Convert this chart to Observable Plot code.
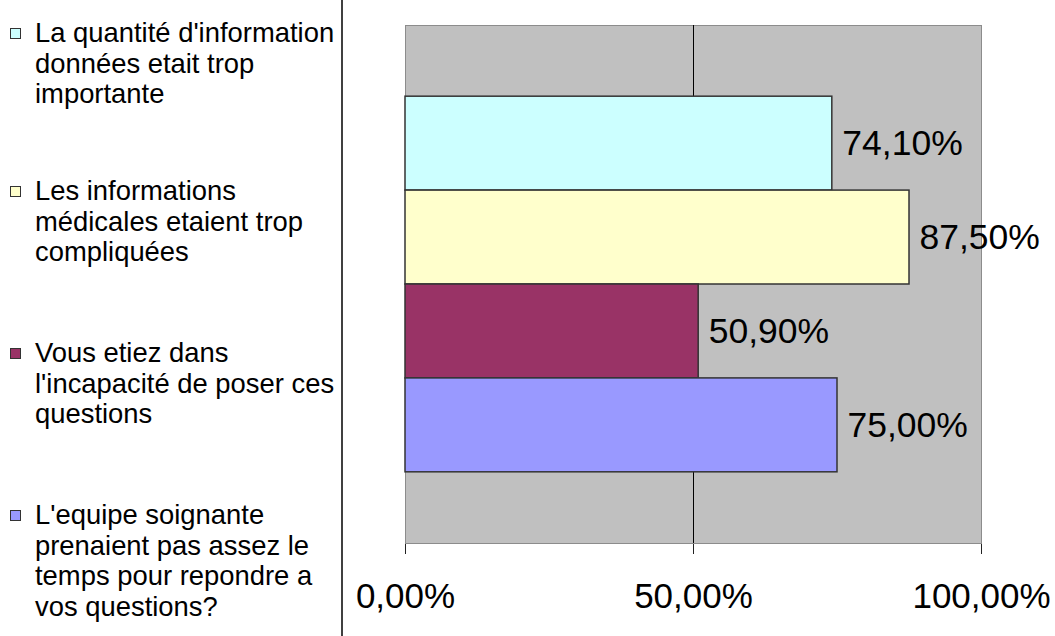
<!DOCTYPE html>
<html>
<head>
<meta charset="utf-8">
<script src="https://cdn.jsdelivr.net/npm/d3@7"></script>
<script src="https://cdn.jsdelivr.net/npm/@observablehq/plot@0.6"></script>
<style>
  html, body { margin: 0; padding: 0; background: #fff; }
  #wrap { position: relative; width: 1055px; height: 636px; overflow: hidden; font-family: "Liberation Sans", Arial, sans-serif; }
  #chart { position: absolute; left: 0; top: 0; }
  .leg { position: absolute; left: 0; font-size: 27.4px; line-height: 30.5px; color: #000; white-space: pre; }
  .leg .sw { position: absolute; left: 10px; top: 10px; width: 9px; height: 9px; border: 1px solid #333; }
  .leg .tx { position: absolute; left: 35px; top: 0; }
  #divider { position: absolute; left: 341px; top: 0; width: 2px; height: 636px; background: #404040; }
</style>
</head>
<body>
<div id="wrap">
  <div id="chart"></div>
  <div id="divider"></div>
</div>
<script>
const series = [
  "La quantité d'information\ndonnées etait trop\nimportante",
  "Les informations\nmédicales etaient trop\ncompliquées",
  "Vous etiez dans\nl'incapacité de poser ces\nquestions",
  "L'equipe soignante\nprenaient pas assez le\ntemps pour repondre a\nvos questions?"
];
const values = [74.1, 87.5, 50.9, 75.0];
const colors = ["#CCFFFF", "#FFFFCC", "#993366", "#9999FF"];
const xTicks = [0, 50, 100];

const fmt = v => v.toFixed(2).replace(".", ",") + "%";
const data = series.map((s, i) => ({series: s, value: values[i], color: colors[i]}));

const chart = Plot.plot({
  width: 1055,
  height: 636,
  marginLeft: 405,
  marginRight: 74,
  marginTop: 25,
  marginBottom: 93,
  style: {fontFamily: "Liberation Sans, Arial, sans-serif", background: "transparent"},
  x: {domain: [0, 100], ticks: xTicks, tickFormat: fmt, tickSize: 11, tickPadding: 29, label: null, line: true, fontSize: 35},
  y: {domain: series, paddingInner: 0, paddingOuter: 0.758, round: false, axis: null},
  marks: [
    Plot.frame({fill: "#C0C0C0", stroke: "#8c8c8c"}),
    Plot.ruleX([50], {stroke: "#000", strokeWidth: 1}),
    Plot.barX(data, {y: "series", x: "value", fill: d => d.color, stroke: "#333", strokeWidth: 1.5, insetTop: 0, insetBottom: 0}),
    Plot.text(data, {y: "series", x: "value", text: d => fmt(d.value), textAnchor: "start", dx: 10, fontSize: 35.5, fill: "#000"})
  ]
});
chart.querySelectorAll("[aria-label='x-axis tick label'] text, g[aria-label='x-axis tick label']").forEach(n => n.setAttribute("font-size", 35));
chart.querySelectorAll("[aria-label='x-axis tick'] path, [aria-label='x-axis line'] line").forEach(n => n.setAttribute("stroke", "#222"));
document.getElementById("chart").appendChild(chart);

const tops = [18, 176, 338, 500];
const wrap = document.getElementById("wrap");
series.forEach((s, i) => {
  const d = document.createElement("div");
  d.className = "leg";
  d.style.top = tops[i] + "px";
  const sw = document.createElement("div");
  sw.className = "sw";
  sw.style.background = colors[i];
  const tx = document.createElement("div");
  tx.className = "tx";
  tx.textContent = s;
  d.appendChild(sw);
  d.appendChild(tx);
  wrap.appendChild(d);
});
</script>
</body>
</html>
